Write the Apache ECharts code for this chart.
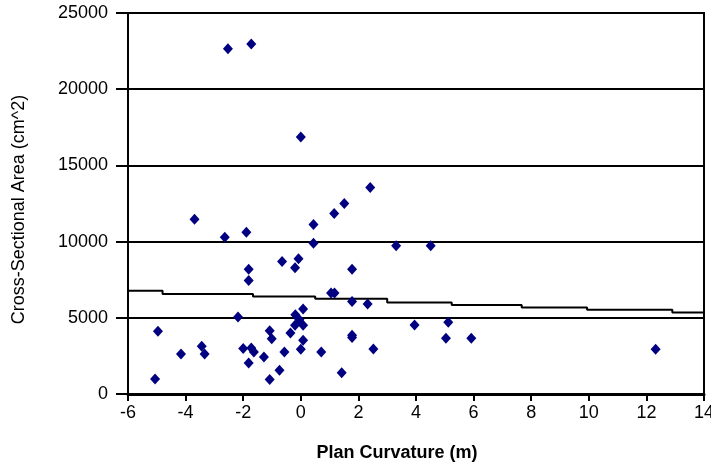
<!DOCTYPE html>
<html>
<head>
<meta charset="utf-8">
<script src="https://cdn.jsdelivr.net/npm/echarts@6/dist/echarts.min.js"></script>
<style>html,body{margin:0;padding:0;background:#fff;}#c{width:711px;height:469px;}</style>
</head>
<body>
<div id="c"></div>
<script>
// Scatter data: plan curvature (m) vs cross-sectional area (cm^2)
const curvature = [-2.53,-1.72,0.0,2.41,1.51,1.16,0.44,-3.69,-2.64,-1.89,0.44,3.31,4.51,-0.65,-0.08,-0.2,-1.81,-1.81,1.78,1.05,1.17,1.78,2.32,0.08,-2.18,-0.19,-0.05,-0.2,0.08,3.95,5.12,-4.96,-1.08,-1.01,-0.36,1.78,1.78,0.08,-3.44,-3.34,-4.16,-2.0,-1.72,-1.63,-1.28,-0.57,0.0,0.71,2.52,-1.81,-0.74,1.42,-1.08,-5.06,5.04,5.92,12.32];
const area = [22650,22970,16860,13550,12500,11850,11130,11460,10280,10610,9890,9730,9730,8690,8880,8290,8190,7440,8190,6620,6620,6070,5900,5570,5050,5200,4870,4510,4510,4530,4700,4110,4150,3630,4000,3850,3700,3530,3130,2630,2630,2980,3020,2760,2430,2760,2930,2760,2960,2040,1560,1390,950,990,3650,3650,2930];
// Trend line (as drawn, stepped)
const trendX = [-6,-4.8,-1.66,0.5,3.0,5.24,7.67,9.94,12.9,14];
const trendY = [6776,6556,6400,6250,6010,5835,5680,5526,5350,5350];
// Axis ticks
const xTicks = {min:-6, max:14, step:2};
const yTicks = {min:0, max:25000, step:5000};

const pts = curvature.map((x,i)=>[x, area[i]]);
const trend = trendX.map((x,i)=>[x, trendY[i]]);
const FONT = 'Liberation Sans, Arial, sans-serif';

const chart = echarts.init(document.getElementById('c'), null, {renderer:'canvas'});
chart.setOption({
  animation:false,
  backgroundColor:'#fff',
  grid:{left:128, right:7, top:13, bottom:75, show:true, borderColor:'#000', borderWidth:2, backgroundColor:'transparent', outerBoundsMode:'none', containLabel:false},
  xAxis:{
    type:'value', min:xTicks.min, max:xTicks.max, interval:xTicks.step,
    name:'Plan Curvature (m)', nameLocation:'middle', nameGap:50,
    nameTextStyle:{fontFamily:FONT, fontSize:18, fontWeight:'bold', color:'#000', padding:[0,38,0,0]},
    axisLine:{onZero:false, lineStyle:{color:'#000', width:3}},
    axisTick:{length:7, lineStyle:{color:'#000', width:2}},
    axisLabel:{fontFamily:FONT, fontSize:18, color:'#000', margin:10},
    splitLine:{show:false}
  },
  yAxis:{
    type:'value', min:yTicks.min, max:yTicks.max, interval:yTicks.step,
    name:'Cross-Sectional Area (cm^2)', nameLocation:'middle', nameGap:100,
    nameTextStyle:{fontFamily:FONT, fontSize:18, color:'#000', padding:[0,12,0,0]},
    axisLine:{onZero:false, lineStyle:{color:'#000', width:2}},
    axisTick:{length:12, lineStyle:{color:'#000', width:2}},
    axisLabel:{fontFamily:FONT, fontSize:18, color:'#000', margin:20, formatter:v=>String(v)},
    splitLine:{show:true, lineStyle:{color:'#000', width:2}}
  },
  series:[
    {type:'line', data:trend, step:'end', symbol:'none', lineStyle:{color:'#000', width:2}, z:2, silent:true},
    {type:'scatter', data:pts, symbol:'diamond', symbolSize:[10,11], itemStyle:{color:'#000080', opacity:1}, z:3}
  ]
});
</script>
</body>
</html>
